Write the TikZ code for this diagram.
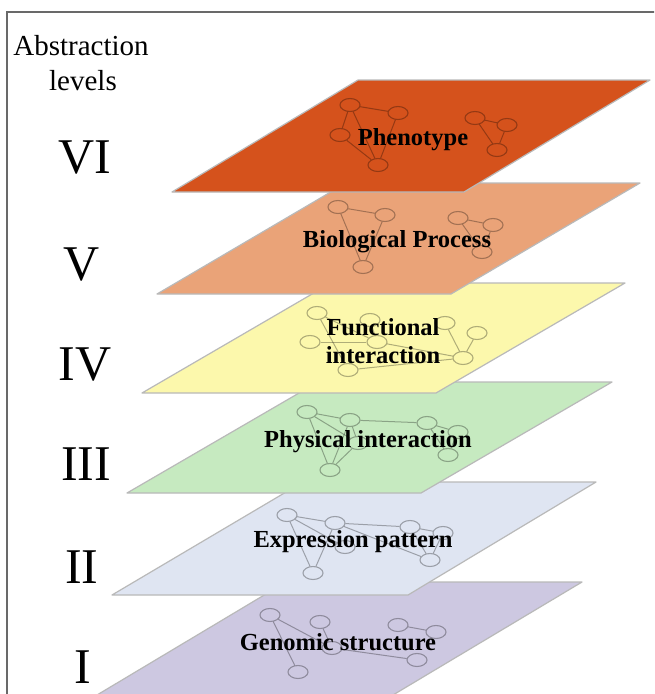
\documentclass[tikz,border=0pt]{standalone}
\usepackage{fontspec}
\setmainfont{Liberation Serif}
\usetikzlibrary{shapes.geometric}
\definecolor{lvsix}{RGB}{213,82,28}
\definecolor{lvfive}{RGB}{234,163,120}
\definecolor{lvfour}{RGB}{252,248,172}
\definecolor{lvthree}{RGB}{198,234,192}
\definecolor{lvtwo}{RGB}{223,229,242}
\definecolor{lvone}{RGB}{205,200,225}
\definecolor{edgegray}{RGB}{185,185,185}
\definecolor{framegray}{RGB}{105,105,105}
\tikzset{
  layer/.style={draw=edgegray, line width=1.2pt, line join=round},
  gn/.style={ellipse, draw=black, draw opacity=0.3, line width=1.1pt, minimum width=20pt, minimum height=13pt, inner sep=0pt},
  ge/.style={draw=black, draw opacity=0.3, line width=1pt},
  lbl/.style={font=\fontsize{24.5}{28}\selectfont\bfseries, text=black, align=center, inner sep=0pt},
  num/.style={font=\fontsize{50}{50}\selectfont, anchor=base, inner sep=0pt},
  head/.style={font=\fontsize{29}{30}\selectfont, anchor=base, inner sep=0pt},
  frameline/.style={draw=framegray, line width=1.6pt}
}
\begin{document}
\begin{tikzpicture}[x=1pt,y=-1pt]
\useasboundingbox (0,0) rectangle (654,694);
\fill[white] (0,0) rectangle (654,694);
\clip (0,0) rectangle (654,694);

% frame
\coordinate (fb) at (7,700);
\coordinate (fc) at (7,12);
\coordinate (fr) at (660,12);
\draw[frameline] (fb) -- (fc) -- (fr);

% heading
\node[head] (h1) at (81,55) {Abstraction};
\node[head] (h2) at (83,90) {levels};

% numerals
\node[num] (r6) at (85,173) {VI};
\node[num] (r5) at (82,280) {V};
\node[num] (r4) at (85,380) {IV};
\node[num] (r3) at (86,480) {III};
\node[num] (r2) at (82,583) {II};
\node[num] (r1) at (83,683) {I};

% ---------- Layer I ----------
\fill[lvone, layer] (286,582) -- (582,582) -- (393,695) -- (97,695) -- cycle;
\node[gn] (n1a) at (270,615) {};
\node[gn] (n1b) at (320,622) {};
\node[gn] (n1c) at (298,672) {};
\node[gn] (n1d) at (398,625) {};
\node[gn] (n1e) at (417,660) {};
\node[gn] (n1f) at (436,632) {};
\node[gn] (n1g) at (332,648) {};
\draw[ge] (n1a) -- (n1c);
\draw[ge] (n1a) -- (n1g);
\draw[ge] (n1b) -- (n1g);
\draw[ge] (n1g) -- (n1e);
\draw[ge] (n1d) -- (n1f);
\node[lbl] (t1) at (338,642) {Genomic structure};

% ---------- Layer II ----------
\fill[lvtwo, layer] (303,482) -- (596,482) -- (408,595) -- (112,595) -- cycle;
\node[gn] (n2a) at (287,515) {};
\node[gn] (n2b) at (335,523) {};
\node[gn] (n2c) at (313,573) {};
\node[gn] (n2d) at (410,527) {};
\node[gn] (n2e) at (443,533) {};
\node[gn] (n2f) at (430,560) {};
\node[gn] (n2g) at (345,547) {};
\draw[ge] (n2a) -- (n2b);
\draw[ge] (n2a) -- (n2c);
\draw[ge] (n2a) -- (n2g);
\draw[ge] (n2b) -- (n2c);
\draw[ge] (n2b) -- (n2d);
\draw[ge] (n2b) -- (n2f);
\draw[ge] (n2d) -- (n2e);
\draw[ge] (n2d) -- (n2f);
\draw[ge] (n2e) -- (n2f);
\node[lbl] (t2) at (353,542) {Expression pattern};

% ---------- Layer III ----------
\fill[lvthree, layer] (318,382) -- (612,382) -- (421,493) -- (127,493) -- cycle;
\node[gn] (n3a) at (307,412) {};
\node[gn] (n3b) at (350,420) {};
\node[gn] (n3c) at (330,470) {};
\node[gn] (n3d) at (427,423) {};
\node[gn] (n3e) at (458,432) {};
\node[gn] (n3f) at (448,455) {};
\node[gn] (n3g) at (358,443) {};
\draw[ge] (n3a) -- (n3b);
\draw[ge] (n3a) -- (n3c);
\draw[ge] (n3a) -- (n3g);
\draw[ge] (n3b) -- (n3c);
\draw[ge] (n3b) -- (n3g);
\draw[ge] (n3b) -- (n3d);
\draw[ge] (n3c) -- (n3g);
\draw[ge] (n3d) -- (n3e);
\draw[ge] (n3d) -- (n3f);
\draw[ge] (n3e) -- (n3f);
\node[lbl] (t3) at (368,442) {Physical interaction};

% ---------- Layer IV ----------
\fill[lvfour, layer] (331,283) -- (625,283) -- (436,393) -- (142,393) -- cycle;
\node[gn] (n4a) at (317,313) {};
\node[gn] (n4b) at (370,320) {};
\node[gn] (n4c) at (310,342) {};
\node[gn] (n4d) at (377,342) {};
\node[gn] (n4e) at (445,323) {};
\node[gn] (n4f) at (477,333) {};
\node[gn] (n4g) at (463,358) {};
\node[gn] (n4h) at (348,370) {};
\draw[ge] (n4a) -- (n4h);
\draw[ge] (n4a) -- (n4d);
\draw[ge] (n4c) -- (n4d);
\draw[ge] (n4b) -- (n4d);
\draw[ge] (n4d) -- (n4g);
\draw[ge] (n4h) -- (n4g);
\draw[ge] (n4e) -- (n4g);
\draw[ge] (n4f) -- (n4g);
\node[lbl] (t4) at (383,341) {Functional\\interaction};

% ---------- Layer V ----------
\fill[lvfive, layer] (346,183) -- (640,183) -- (451,294) -- (157,294) -- cycle;
\node[gn] (n5a) at (338,207) {};
\node[gn] (n5b) at (385,215) {};
\node[gn] (n5c) at (363,267) {};
\node[gn] (n5d) at (458,218) {};
\node[gn] (n5e) at (493,225) {};
\node[gn] (n5f) at (482,252) {};
\draw[ge] (n5a) -- (n5b);
\draw[ge] (n5a) -- (n5c);
\draw[ge] (n5b) -- (n5c);
\draw[ge] (n5d) -- (n5e);
\draw[ge] (n5d) -- (n5f);
\draw[ge] (n5e) -- (n5f);
\node[lbl] (t5) at (397,242) {Biological Process};

% ---------- Layer VI ----------
\fill[lvsix, layer] (358,80) -- (650,80) -- (464,192) -- (172,192) -- cycle;
\node[gn] (n6a) at (350,105) {};
\node[gn] (n6b) at (398,113) {};
\node[gn] (n6c) at (340,135) {};
\node[gn] (n6d) at (378,165) {};
\node[gn] (n6e) at (475,118) {};
\node[gn] (n6f) at (507,125) {};
\node[gn] (n6g) at (497,150) {};
\draw[ge] (n6a) -- (n6b);
\draw[ge] (n6a) -- (n6c);
\draw[ge] (n6a) -- (n6d);
\draw[ge] (n6b) -- (n6d);
\draw[ge] (n6c) -- (n6d);
\draw[ge] (n6e) -- (n6f);
\draw[ge] (n6e) -- (n6g);
\draw[ge] (n6f) -- (n6g);
\node[lbl] (t6) at (413,140) {Phenotype};

\end{tikzpicture}
\end{document}
